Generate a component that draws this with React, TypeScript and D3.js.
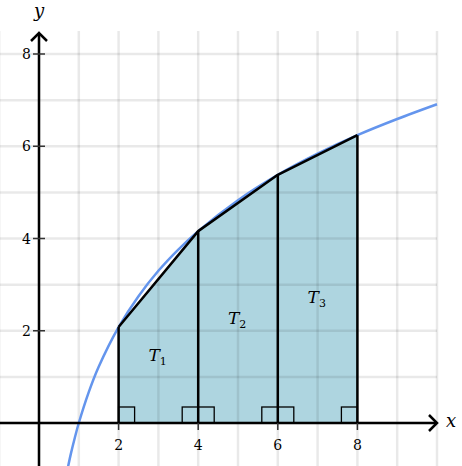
import React, { useEffect, useRef } from 'react';
import * as d3 from 'd3';

// curve (looks like 3 ln x)
const curveX = [0.72, 0.8, 0.9, 1, 1.25, 1.5, 2, 2.5, 3, 3.5, 4, 5, 6, 7, 8, 9, 10];
const curveY = [-0.99, -0.67, -0.32, 0, 0.67, 1.22, 2.08, 2.75, 3.3, 3.76, 4.16, 4.83, 5.38, 5.84, 6.24, 6.59, 6.91];

// trapezoid nodes
const nodeX = [2, 4, 6, 8];
const nodeY = [2.08, 4.16, 5.38, 6.24];

const tickValues = [2, 4, 6, 8];
const labelNames = ['1', '2', '3'];
const labelX = [3.0, 5.0, 7.0];
const labelY = [1.45, 2.25, 2.7];

const W = 462, H = 466;

export default function App() {
  const ref = useRef<SVGSVGElement>(null);

  useEffect(() => {
    const svg = d3.select(ref.current);
    svg.selectAll('*').remove();

    const x = d3.scaleLinear().domain([0, 10]).range([39, 437]);
    const y = d3.scaleLinear().domain([0, 8]).range([423, 54]);
    const font = 'DejaVu Serif';

    // trapezoid fill
    const poly: [number, number][] = [[nodeX[0], 0]];
    nodeX.forEach((v, i) => poly.push([v, nodeY[i]]));
    poly.push([nodeX[nodeX.length - 1], 0]);
    svg.append('path')
      .attr('d', d3.line<[number, number]>().x(d => x(d[0])).y(d => y(d[1]))(poly) + 'Z')
      .attr('fill', '#aed5e0');

    // grid
    const grid = svg.append('g').attr('stroke', '#000').attr('stroke-opacity', 0.085).attr('stroke-width', 2.5);
    d3.range(-1, 11).forEach(v => {
      grid.append('line').attr('x1', x(v)).attr('x2', x(v)).attr('y1', y(8.5)).attr('y2', H);
    });
    d3.range(-1, 9).forEach(v => {
      grid.append('line').attr('x1', 0).attr('x2', x(10)).attr('y1', y(v)).attr('y2', y(v));
    });

    // curve
    const pts = curveX.map((v, i) => [v, curveY[i]] as [number, number]);
    svg.append('path')
      .attr('d', d3.line<[number, number]>().x(d => x(d[0])).y(d => y(d[1])).curve(d3.curveCatmullRom)(pts))
      .attr('fill', 'none')
      .attr('stroke', '#6495ed')
      .attr('stroke-width', 2.5);

    // chords and verticals
    const lines = svg.append('g').attr('stroke', '#000').attr('stroke-width', 2.5).attr('fill', 'none');
    lines.append('path')
      .attr('d', d3.line<number>().x(d => x(d)).y((d, i) => y(nodeY[i]))(nodeX))
      .attr('stroke-linejoin', 'round');
    nodeX.forEach((v, i) => {
      lines.append('line').attr('x1', x(v)).attr('x2', x(v)).attr('y1', y(nodeY[i])).attr('y2', y(0));
    });

    // right-angle marks
    const sq = 16;
    const marks = svg.append('g').attr('stroke', '#000').attr('stroke-width', 1.3).attr('fill', 'none');
    nodeX.forEach((v, i) => {
      if (i > 0) marks.append('rect').attr('x', x(v) - sq).attr('y', y(0) - sq).attr('width', sq).attr('height', sq);
      if (i < nodeX.length - 1) marks.append('rect').attr('x', x(v)).attr('y', y(0) - sq).attr('width', sq).attr('height', sq);
    });

    // axes
    const ax = svg.append('g').attr('stroke', '#000').attr('stroke-width', 2.5).attr('fill', 'none');
    ax.append('line').attr('x1', 0).attr('x2', x(10)).attr('y1', y(0)).attr('y2', y(0));
    ax.append('path').attr('d', `M${x(10) - 8},${y(0) - 8}L${x(10)},${y(0)}L${x(10) - 8},${y(0) + 8}`);
    ax.append('line').attr('x1', x(0)).attr('x2', x(0)).attr('y1', H).attr('y2', 33);
    ax.append('path').attr('d', `M${x(0) - 8},41L${x(0)},33L${x(0) + 8},41`);

    // ticks
    const tk = svg.append('g').attr('stroke', '#333').attr('stroke-width', 1.5);
    tickValues.forEach(v => {
      tk.append('line').attr('x1', x(v)).attr('x2', x(v)).attr('y1', y(0)).attr('y2', y(0) + 7);
      tk.append('line').attr('x1', x(0) - 6).attr('x2', x(0) + 6).attr('y1', y(v)).attr('y2', y(v));
    });

    const txt = svg.append('g').attr('font-family', font).attr('fill', '#000');
    tickValues.forEach(v => {
      txt.append('text').attr('x', x(v)).attr('y', y(0) + 27).attr('text-anchor', 'middle')
        .attr('font-size', 14).text(String(v));
      txt.append('text').attr('x', x(0) - 8).attr('y', y(v) + 5).attr('text-anchor', 'end')
        .attr('font-size', 14).text(String(v));
    });
    txt.append('text').attr('x', x(0)).attr('y', 17).attr('text-anchor', 'middle')
      .attr('font-size', 18).attr('font-style', 'italic').text('y');
    txt.append('text').attr('x', 446).attr('y', y(0) + 4).attr('font-size', 18)
      .attr('font-style', 'italic').text('x');

    labelNames.forEach((n, i) => {
      const t = txt.append('text').attr('x', x(labelX[i]) - 10).attr('y', y(labelY[i]) + 5).attr('font-size', 17);
      t.append('tspan').attr('font-style', 'italic').text('T');
      t.append('tspan').attr('font-size', 11).attr('dy', 4).text(n);
    });
  }, []);

  return (
    <svg ref={ref} width={W} height={H} style={{ position: 'absolute', left: 0, top: 0, background: '#fff' }} />
  );
}
